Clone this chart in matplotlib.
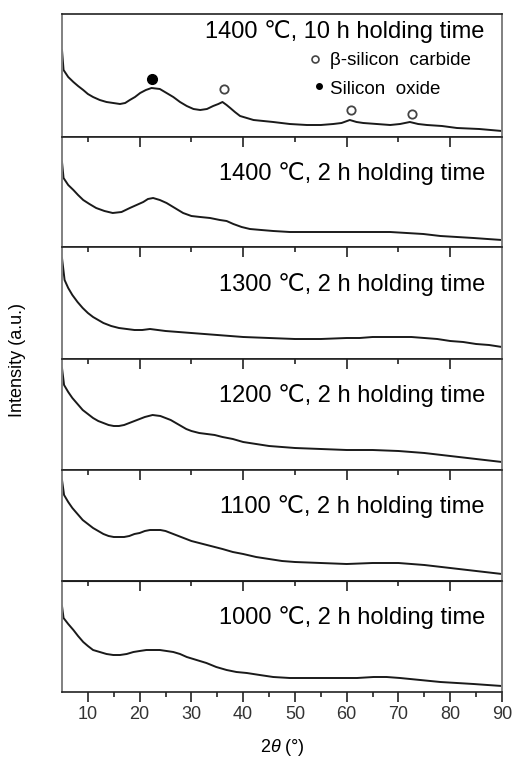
import numpy as np
import matplotlib
matplotlib.use("Agg")
import matplotlib.pyplot as plt
from matplotlib.ticker import FixedLocator

plt.rcParams['font.family'] = ['Liberation Sans', 'DejaVu Sans']
plt.rcParams['mathtext.fontset'] = 'custom'
plt.rcParams['mathtext.it'] = 'Liberation Sans:italic'

# panel labels, top to bottom
labels = ["1400 ℃, 10 h holding time",
          "1400 ℃, 2 h holding time",
          "1300 ℃, 2 h holding time",
          "1200 ℃, 2 h holding time",
          "1100 ℃, 2 h holding time",
          "1000 ℃, 2 h holding time"]

# 2theta / intensity (a.u.)
x1 = [5.0, 5.3, 6.2, 7.2, 8.1, 9.1, 10.0, 11.0, 12.3, 13.6, 14.9, 16.2, 17.2, 18.1, 19.1,
      20.1, 21.2, 22.3, 23.9, 25.2, 26.5, 27.8, 29.1, 30.4, 31.7, 33.0, 34.2, 35.2, 36.0,
      36.8, 37.5, 38.4, 39.4, 40.7, 42.0, 43.9, 45.8, 49.0, 52.3, 55.0, 57.4, 59.0, 60.6,
      61.9, 63.2, 65.8, 68.4, 70.3, 72.2, 73.8, 75.5, 78.4, 81.3, 85.6, 90]
y1 = [87, 67, 60, 55, 51, 47, 43, 40, 37, 35, 34, 33, 34, 37, 40,
      44, 47, 49, 48, 44, 40, 35, 31, 28, 27, 28, 31, 33, 35,
      32, 29, 25, 21, 19, 17, 16, 15, 13, 12, 12, 13, 14, 17,
      15, 14, 13, 12, 13, 15, 13, 12, 11, 9, 8, 6]

x2 = [5.0, 5.3, 6.2, 7.2, 8.1, 9.1, 10.3, 11.6, 13.2, 14.8, 16.5, 18.1, 19.4, 20.7, 21.6,
      22.6, 23.9, 25.2, 26.8, 28.4, 30.0, 31.7, 33.6, 35.5, 36.8, 38.1, 39.7, 41.3, 43.5,
      45.8, 49.0, 52.3, 55.5, 58.7, 62.0, 65.2, 68.4, 71.6, 74.8, 78.1, 81.3, 84.5, 87.2, 90]
y2 = [85, 69, 62, 57, 52, 47, 43, 39, 36, 34, 35, 39, 42, 45, 48,
      49, 47, 44, 39, 34, 31, 30, 29, 27, 26, 23, 20, 18, 17,
      16, 15, 15, 15, 15, 15, 15, 15, 14, 13, 11, 10, 9, 8, 7]

x3 = [5.0, 5.5, 6.2, 7, 8, 9, 10, 11, 12, 13, 14.5, 16, 17.5, 19, 20.5, 22, 23.5, 25,
      27.5, 30, 32.5, 35, 37.5, 40, 45, 50, 55, 60, 62.5, 65, 67.5, 70, 72.5, 75, 77.5,
      80, 82.5, 85, 87.5, 90]
y3 = [101, 79, 71, 64, 57, 51, 46, 42, 39, 36, 33, 31, 30, 29, 29, 30, 29, 28,
      27, 26, 25, 24, 23, 22, 21, 20, 20, 21, 21, 22, 22, 22, 22, 21, 20,
      18, 17, 15, 14, 12]

x4 = [5.0, 5.4, 6.2, 7, 8, 9, 10, 11, 12, 13, 14, 15, 16, 17, 18, 19, 20, 21, 22.5, 24,
      25, 26, 27, 28, 29, 30, 31.5, 33, 34.5, 36, 38, 40, 42.5, 45, 47.5, 50, 55, 60, 65,
      70, 75, 80, 85, 90]
y4 = [102, 85, 78, 72, 66, 60, 56, 52, 49, 47, 45, 44, 44, 45, 47, 49, 51, 53, 55, 54,
      52, 50, 47, 44, 41, 39, 37, 36, 35, 33, 31, 28, 26, 24, 23, 22, 21, 20, 20,
      19, 17, 14, 11, 8]

x5 = [5.0, 5.4, 6.2, 7, 8, 9, 10, 11, 12, 13, 14, 15, 16, 17, 18, 19, 20, 21, 22, 23,
      24, 25, 26, 27, 28.5, 30, 31.5, 33, 34.5, 36, 38, 40, 42.5, 45, 47.5, 50, 55, 60,
      65, 70, 75, 80, 85, 90]
y5 = [101, 86, 79, 73, 67, 61, 57, 53, 50, 47, 45, 44, 44, 44, 45, 47, 48, 50, 51, 51,
      51, 50, 48, 46, 43, 40, 38, 36, 34, 32, 29, 27, 24, 22, 20, 19, 18, 17,
      18, 18, 16, 13, 10, 7]

x6 = [5.0, 5.3, 6.2, 7.2, 8.1, 9.1, 10.0, 11.0, 12.3, 13.6, 14.9, 16.2, 17.5, 18.8, 20.0,
      21.3, 22.6, 23.9, 25.2, 26.5, 27.8, 29.1, 31.0, 32.9, 34.8, 36.8, 38.7, 40.7, 43.2,
      45.8, 49.0, 52.3, 55.5, 58.7, 62.0, 65.2, 67.7, 70.3, 74.2, 78.1, 81.3, 84.5, 87.2, 90]
y6 = [86, 74, 68, 62, 56, 50, 46, 42, 40, 38, 37, 37, 38, 40, 41,
      42, 42, 42, 41, 40, 38, 35, 32, 29, 25, 22, 20, 19, 17,
      15, 14, 14, 14, 14, 14, 15, 15, 14, 12, 10, 9, 8, 7, 6]

xs = [x1, x2, x3, x4, x5, x6]
ys = [y1, y2, y3, y4, y5, y6]

# peak markers on the top pattern
sic_x = [36.3, 60.8, 72.6]
sic_y = [48, 27, 23]
sio_x = [22.3]
sio_y = [58]

W, H = 513, 759
fig = plt.figure(figsize=(W / 100, H / 100), dpi=100)
edges = [14, 137, 247, 359, 470, 581, 692]   # pixel rows of panel borders
left, right = 62, 502


def top_ticks(axis_obj):
    axis_obj.xaxis.set_major_locator(FixedLocator([20, 40, 60, 80]))
    axis_obj.xaxis.set_minor_locator(FixedLocator([10, 30, 50, 70]))
    axis_obj.tick_params(axis='x', which='major', direction='in', length=7,
                         width=1.2, color='#222222')
    axis_obj.tick_params(axis='x', which='minor', direction='in', length=3.5,
                         width=1.2, color='#222222')


axes = []
for i in range(6):
    top, bot = edges[i], edges[i + 1]
    ax = fig.add_axes([left / W, 1 - bot / H, (right - left) / W, (bot - top) / H])
    ax.plot(xs[i], ys[i], color='#1a1a1a', lw=1.4)
    ax.set_xlim(5, 90)
    ax.set_ylim(0, bot - top)
    ax.set_yticks([])
    for s in ['left', 'right']:
        ax.spines[s].set_color('#808080')
        ax.spines[s].set_linewidth(1.4)
    for s in ['top', 'bottom']:
        ax.spines[s].set_color('#222222')
        ax.spines[s].set_linewidth(1.2)
    if i == 0:
        ax.set_xticks([])
        ax.text(0.961, 1 - 18 / 123, labels[i], transform=ax.transAxes,
                ha='right', va='center', fontsize=17)
    else:
        ax.text(0.961, 1 - 37 / 111, labels[i], transform=ax.transAxes,
                ha='right', va='center', fontsize=17)
    if 0 < i < 5:
        ax.tick_params(axis='x', which='both', top=True, bottom=False,
                       labelbottom=False)
        top_ticks(ax)
    axes.append(ax)

# top panel markers and key
ax = axes[0]
ax.plot(sio_x, sio_y, 'o', color='black', ms=7)
ax.plot(sic_x, sic_y, 'o', mfc='white', mec='#444444', mew=1.3, ms=6)
ax.plot([0.575], [0.634], 'o', mfc='white', mec='#444444', mew=1.2, ms=5,
        transform=ax.transAxes)
ax.plot([0.584], [0.415], 'o', color='black', ms=4, transform=ax.transAxes)
ax.text(0.609, 0.626, "β-silicon  carbide", transform=ax.transAxes,
        ha='left', va='center', fontsize=13.5)
ax.text(0.609, 0.39, "Silicon  oxide", transform=ax.transAxes,
        ha='left', va='center', fontsize=13.5)

# bottom panel: labelled ticks below, inner ticks on top
axb = axes[-1]
axb.set_xticks(np.arange(10, 91, 10))
axb.xaxis.set_minor_locator(FixedLocator(np.arange(15, 90, 10)))
axb.tick_params(axis='x', which='major', direction='out', length=7, width=1.2,
                labelsize=13, labelcolor='#333333', pad=3, color='#222222')
axb.tick_params(axis='x', which='minor', direction='out', length=3.5, width=1.2,
                color='#222222')
axb.set_xlabel(r'2$\it{\theta}$ (°)', fontsize=13, labelpad=10)
sec = axb.secondary_xaxis('top')
top_ticks(sec)
sec.tick_params(axis='x', labeltop=False)

fig.text(18 / W, 1 - 360 / H, "Intensity (a.u.)", rotation=90,
         ha='center', va='center', fontsize=13)

fig.savefig('out.png', dpi=100, facecolor='white')
